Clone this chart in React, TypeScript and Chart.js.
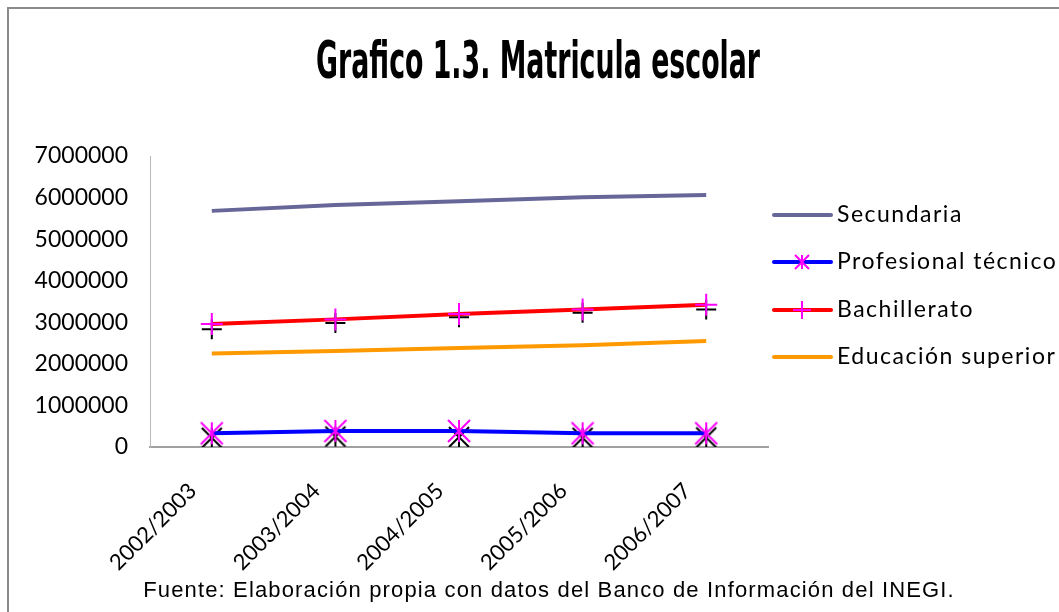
import React, { useEffect, useRef } from "react";
import { Chart, registerables } from "chart.js";

Chart.register(...registerables);

const categories = ["2002/2003", "2003/2004", "2004/2005", "2005/2006", "2006/2007"];
const secundaria = [5680000, 5820000, 5910000, 6010000, 6060000];
const profesionalTecnico = [330000, 385000, 385000, 330000, 330000];
const bachillerato = [2960000, 3070000, 3200000, 3310000, 3420000];
const educacionSuperior = [2250000, 2310000, 2380000, 2450000, 2550000];
const bachilleratoMarks = [2830000, 2980000, 3120000, 3230000, 3310000];
const profesionalMarks = [220000, 250000, 240000, 220000, 230000];
const yTicks = [0, 1000000, 2000000, 3000000, 4000000, 5000000, 6000000, 7000000];
const seriesNames = ["Secundaria", "Profesional técnico", "Bachillerato", "Educación superior"];
const titleText = "Grafico 1.3. Matricula escolar";
const sourceText = "Fuente: Elaboración propia con datos del Banco de Información del INEGI.";

function makeStar(color: string, r: number, lw: number) {
  const size = Math.ceil(2 * r + 4);
  const c = document.createElement("canvas");
  c.width = size;
  c.height = size;
  const g = c.getContext("2d")!;
  const m = size / 2;
  g.strokeStyle = color;
  g.lineWidth = lw;
  g.beginPath();
  g.moveTo(m, m - r);
  g.lineTo(m, m + r);
  g.moveTo(m - r, m - r);
  g.lineTo(m + r, m + r);
  g.moveTo(m + r, m - r);
  g.lineTo(m - r, m + r);
  g.stroke();
  return c;
}

export default function App() {
  const ref = useRef<HTMLCanvasElement | null>(null);

  useEffect(() => {
    document.body.style.margin = "0";
    const canvas = ref.current!;
    const magentaStar = makeStar("#FF00FF", 11, 2);
    const blackStar = makeStar("#000000", 10, 2);
    const legendStar = makeStar("#FF00FF", 7, 2);

    const framePlugin = {
      id: "frame",
      beforeDraw(chart: any) {
        const ctx = chart.ctx;
        ctx.save();
        ctx.fillStyle = "#ffffff";
        ctx.fillRect(0, 0, chart.width, chart.height);
        ctx.strokeStyle = "#8a8a8a";
        ctx.lineWidth = 2;
        ctx.beginPath();
        ctx.moveTo(8, chart.height + 10);
        ctx.lineTo(8, 8);
        ctx.lineTo(chart.width + 10, 8);
        ctx.stroke();
        ctx.restore();
      },
      afterDraw(chart: any) {
        const ctx = chart.ctx;
        ctx.save();
        // title
        ctx.font = 'bold 52px "DejaVu Sans Condensed", "Liberation Sans Narrow", sans-serif';
        const w = ctx.measureText(titleText).width;
        ctx.translate(538, 78);
        ctx.scale(444 / w, 1);
        ctx.textAlign = "center";
        ctx.textBaseline = "alphabetic";
        ctx.fillStyle = "#000";
        ctx.fillText(titleText, 0, 0);
        ctx.restore();

        // source
        ctx.save();
        ctx.font = '22px "Liberation Sans", Arial, sans-serif';
        (ctx as any).letterSpacing = "1.15px";
        ctx.textAlign = "center";
        ctx.textBaseline = "alphabetic";
        ctx.fillStyle = "#000";
        ctx.fillText(sourceText, 549, 597);
        ctx.restore();

        // legend
        ctx.save();
        const rows = [215, 262, 310, 357];
        const colors = ["#666699", "#0000FF", "#FF0000", "#FF9900"];
        for (let i = 0; i < seriesNames.length; i++) {
          const y = rows[i];
          ctx.strokeStyle = colors[i];
          ctx.lineWidth = 4;
          ctx.lineCap = "round";
          ctx.beginPath();
          ctx.moveTo(774, y);
          ctx.lineTo(831, y);
          ctx.stroke();
          if (i === 1) {
            ctx.drawImage(legendStar, 802 - legendStar.width / 2, y - legendStar.height / 2);
          } else if (i === 2) {
            ctx.strokeStyle = "#FF00FF";
            ctx.lineWidth = 2;
            ctx.lineCap = "butt";
            ctx.beginPath();
            ctx.moveTo(793, y);
            ctx.lineTo(811, y);
            ctx.moveTo(802, y - 9);
            ctx.lineTo(802, y + 9);
            ctx.stroke();
          }
          ctx.font = '23px Lato, "Open Sans", sans-serif';
          (ctx as any).letterSpacing = "1.5px";
          ctx.fillStyle = "#000";
          ctx.textAlign = "left";
          ctx.textBaseline = "middle";
          ctx.fillText(seriesNames[i], 837, y);
        }
        ctx.restore();
      },
    };

    const chart = new Chart(canvas, {
      type: "line",
      data: {
        labels: categories,
        datasets: [
          {
            label: seriesNames[0],
            data: secundaria,
            borderColor: "#666699",
            borderWidth: 4,
            pointRadius: 0,
            order: 1,
          },
          {
            label: seriesNames[1],
            data: profesionalTecnico,
            borderColor: "#0000FF",
            borderWidth: 4,
            pointStyle: magentaStar as any,
            pointRadius: 11,
            order: 1,
          },
          {
            label: seriesNames[2],
            data: bachillerato,
            borderColor: "#FF0000",
            borderWidth: 4,
            pointStyle: "cross",
            pointRadius: 11,
            pointBorderColor: "#FF00FF",
            pointBorderWidth: 2,
            order: 1,
          },
          {
            label: seriesNames[3],
            data: educacionSuperior,
            borderColor: "#FF9900",
            borderWidth: 4,
            pointRadius: 0,
            order: 1,
          },
          {
            label: "marks1",
            data: bachilleratoMarks,
            showLine: false,
            pointStyle: "cross",
            pointRadius: 10,
            pointBorderColor: "#000",
            pointBorderWidth: 2,
            borderWidth: 2,
            order: 5,
          },
          {
            label: "marks2",
            data: profesionalMarks,
            showLine: false,
            pointStyle: blackStar as any,
            pointRadius: 10,
            borderWidth: 2,
            order: 5,
          },
        ],
      },
      options: {
        responsive: false,
        animation: false,
        layout: { padding: { left: 0, top: 156, right: 291, bottom: 0 } },
        plugins: {
          legend: { display: false },
          title: { display: false },
          tooltip: { enabled: false },
        },
        scales: {
          x: {
            offset: true,
            grid: { display: false, drawTicks: false },
            border: { display: true, color: "#a0a0a0", width: 2 },
            ticks: {
              minRotation: 45,
              maxRotation: 45,
              padding: 31,
              labelOffset: -19,
              color: "#000",
              font: { family: 'Lato, "Open Sans", sans-serif', size: 22 },
            },
            afterFit: (s: any) => {
              s.height = 165;
            },
          },
          y: {
            min: 0,
            max: 7000000,
            grid: { display: false, drawTicks: false },
            border: { display: true, color: "#b8b8b8", width: 1 },
            afterBuildTicks: (s: any) => {
              s.ticks = yTicks.map((v) => ({ value: v }));
            },
            ticks: {
              padding: 22,
              color: "#000",
              font: { family: 'Lato, "Open Sans", sans-serif', size: 23 },
              callback: (v: any) => String(v),
            },
            afterFit: (s: any) => {
              s.width = 150;
            },
          },
        },
      },
      plugins: [framePlugin],
    });
    return () => chart.destroy();
  }, []);

  return (
    <div style={{ width: 1059, height: 612 }}>
      <canvas ref={ref} width={1059} height={612} style={{ display: "block" }} />
    </div>
  );
}
